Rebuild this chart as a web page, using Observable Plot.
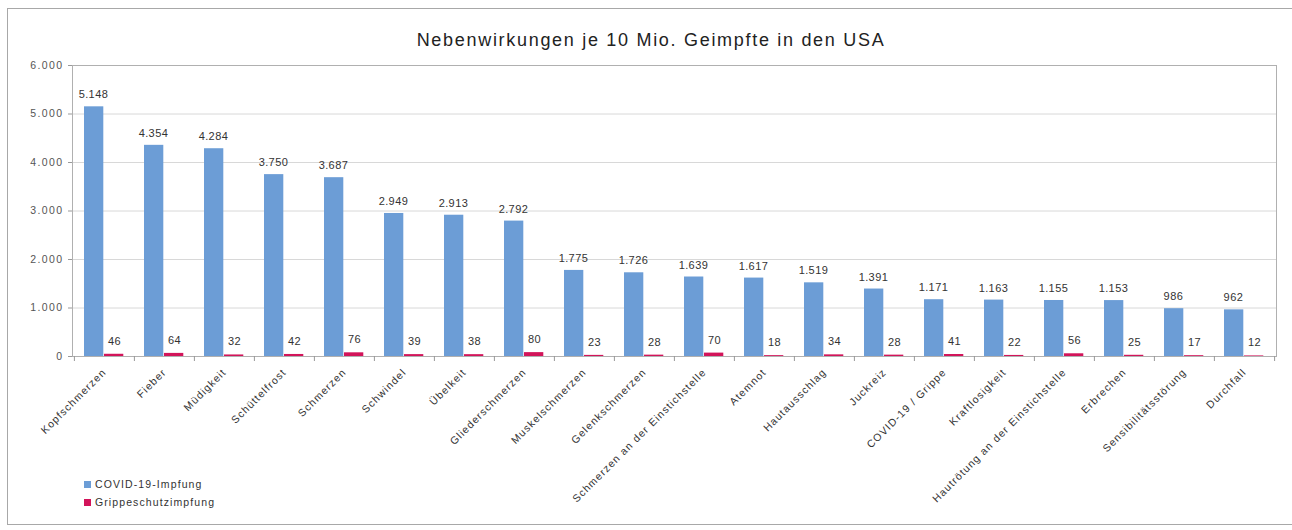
<!DOCTYPE html>
<html>
<head>
<meta charset="utf-8">
<script src="https://cdn.jsdelivr.net/npm/d3@7"></script>
<script src="https://cdn.jsdelivr.net/npm/@observablehq/plot@0.6"></script>
<style>
  html, body { margin: 0; padding: 0; background: #fff; }
  #wrap { position: relative; width: 1292px; height: 530px; overflow: hidden; font-family: "Liberation Sans", Arial, sans-serif; }
  #frame { position: absolute; left: 7px; top: 8px; width: 1295px; height: 517px; border: 1.5px solid #a8a8a8; box-sizing: border-box; }
  #title { position: absolute; left: 0; width: 1302px; top: 30px; text-align: center; font-size: 18px; letter-spacing: 1.7px; color: #222; }
  #chart { position: absolute; left: 0; top: 0; }
  #legend { position: absolute; left: 84px; top: 475px; font-size: 10.5px; letter-spacing: 1.1px; color: #333; line-height: 18px; }
  #legend .sw { display: inline-block; width: 7px; height: 7px; margin-right: 4px; vertical-align: 0px; }
  #chart svg .xl text { letter-spacing: 1.1px; }
  #chart svg .yl text { letter-spacing: 1.4px; }
  #chart svg .vl text { letter-spacing: 0.4px; }
</style>
</head>
<body>
<div id="wrap">
  <div id="frame"></div>
  <div id="chart"></div>
  <div id="title">Nebenwirkungen je 10 Mio. Geimpfte in den USA</div>
  <div id="legend"></div>
</div>
<script>
const categories = [
  "Kopfschmerzen", "Fieber", "Müdigkeit", "Schüttelfrost", "Schmerzen", "Schwindel",
  "Übelkeit", "Gliederschmerzen", "Muskelschmerzen", "Gelenkschmerzen",
  "Schmerzen an der Einstichstelle", "Atemnot", "Hautausschlag", "Juckreiz",
  "COVID-19 / Grippe", "Kraftlosigkeit", "Hautrötung an der Einstichstelle",
  "Erbrechen", "Sensibilitätsstörung", "Durchfall"
];
const covidValues = [5148, 4354, 4284, 3750, 3687, 2949, 2913, 2792, 1775, 1726, 1639, 1617, 1519, 1391, 1171, 1163, 1155, 1153, 986, 962];
const grippeValues = [46, 64, 32, 42, 76, 39, 38, 80, 23, 28, 70, 18, 34, 28, 41, 22, 56, 25, 17, 12];
const seriesNames = ["COVID-19-Impfung", "Grippeschutzimpfung"];
const seriesColors = ["#6c9dd6", "#d2145a"];
const yTicks = [0, 1000, 2000, 3000, 4000, 5000, 6000];

const de = d3.formatLocale({decimal: ",", thousands: ".", grouping: [3], currency: ["", " €"]});
const fmt = de.format(",d");

const covid = categories.map((c, i) => ({cat: c, v: covidValues[i]}));
const grippe = categories.map((c, i) => ({cat: c, v: grippeValues[i]}));

const W = 1292, H = 530;
const mL = 72, mR = 16, mT = 65, mB = H - 356;
const bw = (W - mL - mR) / categories.length;

const font = '"Liberation Sans", Arial, sans-serif';

const plot = Plot.plot({
  width: W,
  height: H,
  marginLeft: mL,
  marginRight: mR,
  marginTop: mT,
  marginBottom: mB,
  style: {fontFamily: font, background: "transparent", overflow: "visible"},
  x: {domain: categories, padding: 0, axis: null, label: null},
  y: {domain: [0, 6000], axis: null, label: null},
  marks: [
    Plot.gridY(yTicks.filter(d => d > 0), {stroke: "#d8d8d8", strokeOpacity: 1}),
    Plot.barY(covid, {x: "cat", y: "v", fill: seriesColors[0], insetLeft: 10, insetRight: bw - 29.5}),
    Plot.barY(grippe, {x: "cat", y: "v", fill: seriesColors[1], insetLeft: 30, insetRight: bw - 49.5}),
    Plot.text(covid, {x: "cat", y: "v", text: d => fmt(d.v), dx: -bw / 2 + 19, dy: -12, fontSize: 11, fill: "#333", className: "vl"}),
    Plot.text(grippe, {x: "cat", y: "v", text: d => fmt(d.v), dx: -bw / 2 + 40, dy: -13, fontSize: 11, fill: "#333", className: "vl"}),
    Plot.ruleY([0], {stroke: "#9a9a9a"}),
    Plot.frame({stroke: "#b0b0b0"}),
    Plot.ruleX(categories, {x: d => d, y1: 0, y2: 0, insetBottom: -5, dx: -bw / 2, stroke: "#999"}),
    Plot.ruleX(categories.slice(-1), {x: d => d, y1: 0, y2: 0, insetBottom: -5, dx: bw / 2, stroke: "#999"}),
    Plot.axisY({ticks: yTicks, tickFormat: fmt, tickSize: 4, tickPadding: 5, fontSize: 10.5, fill: "#555", stroke: "#999", label: null, className: "yl"}),
    Plot.axisX({ticks: categories, tickSize: 0, tickPadding: 14, tickRotate: -45, fontSize: 10.5, fill: "#333", label: null, className: "xl"})
  ]
});
document.getElementById("chart").appendChild(plot);

const legend = document.getElementById("legend");
seriesNames.forEach((name, i) => {
  const row = document.createElement("div");
  const sw = document.createElement("span");
  sw.className = "sw";
  sw.style.background = seriesColors[i];
  row.appendChild(sw);
  row.appendChild(document.createTextNode(name));
  legend.appendChild(row);
});
</script>
</body>
</html>
